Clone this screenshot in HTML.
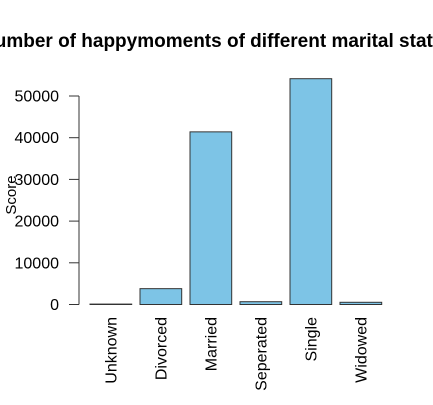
<!DOCTYPE html>
<html><head><meta charset="utf-8"><style>
html,body{margin:0;padding:0;background:#fff;}
svg{display:block;font-family:"Liberation Sans",Arial,sans-serif;}
</style></head><body>
<svg id="chart" width="433" height="405" viewBox="0 0 433 405">
<text x="218" y="47" text-anchor="middle" font-size="19" font-weight="bold">Number of happymoments of different marital status</text>
<text transform="translate(16,195) rotate(-90)" text-anchor="middle" font-size="15">Score</text>
<g id="axis"></g>
<g id="bars"></g>
</svg>
<script>
const categories = ["Unknown","Divorced","Married","Seperated","Single","Widowed"];
const values = [100, 3800, 41400, 670, 54150, 530];
const yTicks = [0, 10000, 20000, 30000, 40000, 50000];
const NS = "http://www.w3.org/2000/svg";
const y0 = 304.5, pxPer = 208.5/50000;
function yScale(v){ return y0 - v*pxPer; }
function xLeft(i){ return 90 + i*50; }
const bw = 41.7;
const axis = document.getElementById('axis');
const bars = document.getElementById('bars');
function mk(tag, attrs, parent){ const e=document.createElementNS(NS,tag); for(const k in attrs) e.setAttribute(k,attrs[k]); parent.appendChild(e); return e; }
const al = mk('line',{x1:79,x2:79,y1:yScale(yTicks[0]),y2:yScale(yTicks[yTicks.length-1]),stroke:'#333','stroke-width':1},axis);


yTicks.forEach(t=>{
  const tk = mk('line',{x1:69,x2:79,y1:yScale(t),y2:yScale(t),stroke:'#333','stroke-width':1},axis);
  
  
  const tl = mk('text',{x:59,y:yScale(t)+5.5,'text-anchor':'end','font-size':16},axis);
  tl.textContent = t;
  
  
});
categories.forEach((c,i)=>{
  const v = values[i];
  const r = mk('rect',{x:xLeft(i),y:yScale(v),width:bw,height:y0-yScale(v),fill:'#7dc4e6',stroke:'#333','stroke-width':1},bars);
  
  
  const cx = xLeft(i)+bw/2;
  const l = mk('text',{transform:`translate(${cx+5.5},317) rotate(-90)`,'text-anchor':'end','font-size':16},bars);
  l.textContent = c;
  
  
});
</script>
</body></html>
